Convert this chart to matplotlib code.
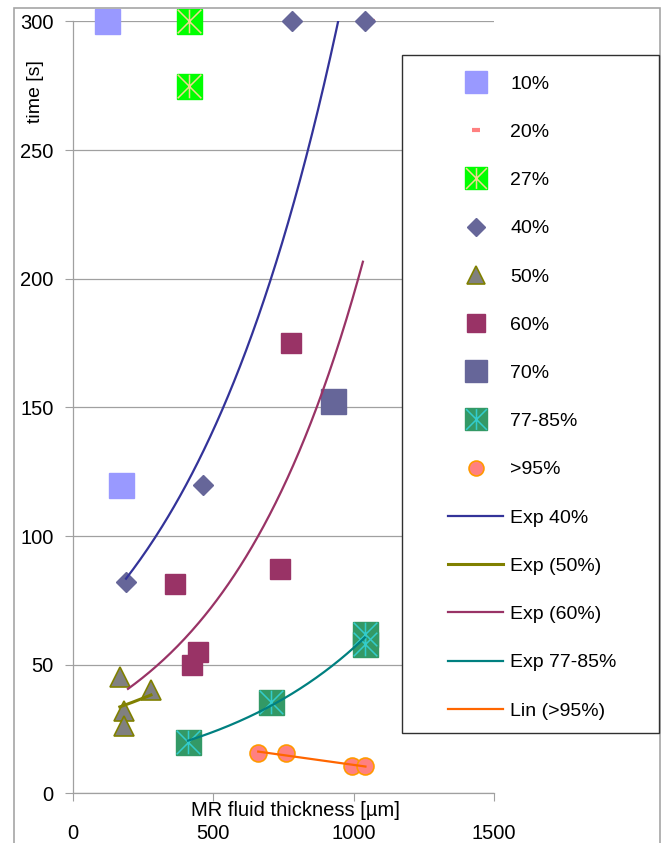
import matplotlib
matplotlib.use('Agg')
import matplotlib.pyplot as plt
import numpy as np
from matplotlib.path import Path
from matplotlib.patches import Rectangle

plt.rcParams['font.family'] = ['Liberation Sans', 'DejaVu Sans']

# measured points: MR fluid thickness [um] vs time [s]
x10 = [120, 170]
y10 = [300, 120]
x20 = [1060]
y20 = [300]
x27 = [415, 415]
y27 = [300, 275]
x40 = [189, 463, 780, 1040]
y40 = [82, 120, 300, 300]
x50 = [167, 278, 182, 182]
y50 = [45, 40, 32, 26]
x60 = [363, 737, 777, 445, 424]
y60 = [81.5, 87, 175, 55, 50]
x70 = [926]
y70 = [152.5]
x77 = [410, 706, 1040, 1040]
y77 = [20, 35.5, 62, 58]
x95 = [660, 758, 995, 1042]
y95 = [15.6, 15.6, 10.6, 10.6]

# x-range over which each trendline is drawn
span40 = [189, 1040]
span50 = [167, 278]
span60 = [196, 1033]
span77 = [410, 1040]
span95 = [660, 1042]


def exp_trend(x, y, span):
    b, lna = np.polyfit(x, np.log(y), 1)
    xs = np.linspace(span[0], span[1], 200)
    return xs, np.exp(lna + b * xs)


def lin_trend(x, y, span):
    k, d = np.polyfit(x, y, 1)
    xs = np.array(span, dtype=float)
    return xs, k * xs + d


# asterisk marker (vertical bar + X)
star = Path([(0, -1), (0, 1), (-1, -1), (1, 1), (-1, 1), (1, -1)],
            [Path.MOVETO, Path.LINETO] * 3)

fig = plt.figure(figsize=(6.67, 8.43), dpi=100)
ax = fig.add_axes([0.1094, 0.0590, 0.6312, 0.9155])

mk = dict(ls='none', clip_on=False, zorder=3)
h10, = ax.plot(x10, y10, marker='s', ms=18, mfc='#9999FF', mec='#9999FF', **mk)
h20, = ax.plot(x20, y20, marker='_', ms=6.5, mew=3, color='#FF8080', ls='none',
               clip_on=False, zorder=2)
h27a, = ax.plot(x27, y27, marker='s', ms=18, mfc='#00FF00', mec='#00FF00', **mk)
h27b, = ax.plot(x27, y27, marker=star, ms=17, mec='#F0D890', mew=1.1, **mk)
h40, = ax.plot(x40, y40, marker='D', ms=10.2, mfc='#666699', mec='#666699', **mk)
h50, = ax.plot(x50, y50, marker='^', ms=14.4, mfc='#808080', mec='#808000', mew=1.2, **mk)
h60, = ax.plot(x60, y60, marker='s', ms=14.4, mfc='#993366', mec='#993366', **mk)
h70, = ax.plot(x70, y70, marker='s', ms=18, mfc='#666699', mec='#666699', **mk)
h77a, = ax.plot(x77, y77, marker='s', ms=18, mfc='#339966', mec='#339966', **mk)
h77b, = ax.plot(x77, y77, marker=star, ms=17, mec='#33CCCC', mew=1.1, **mk)
h95, = ax.plot(x95, y95, marker='o', ms=12.2, mfc='#FF8080', mec='#FF9900', mew=1.2, **mk)

lw = 1.6
xs, ys = exp_trend(x40, y40, span40)
t40, = ax.plot(xs, ys, color='#333399', lw=lw, zorder=4)
xs, ys = exp_trend(x50, y50, span50)
t50, = ax.plot(xs, ys, color='#808000', lw=lw + 0.6, zorder=4)
xs, ys = exp_trend(x60, y60, span60)
t60, = ax.plot(xs, ys, color='#993366', lw=lw, zorder=4)
xs, ys = exp_trend(x77, y77, span77)
t77, = ax.plot(xs, ys, color='#008080', lw=lw, zorder=4)
xs, ys = lin_trend(x95, y95, span95)
t95, = ax.plot(xs, ys, color='#FF6600', lw=lw, zorder=4)

ax.set_xlim(0, 1500)
ax.set_ylim(0, 300)
ax.set_xticks([0, 500, 1000, 1500])
ax.set_yticks(np.arange(0, 301, 50))
ax.yaxis.grid(True, color='#a0a0a0', lw=0.9)
ax.set_axisbelow(True)
for s in ['top', 'right']:
    ax.spines[s].set_visible(False)
for s in ['left', 'bottom']:
    ax.spines[s].set_color('#a0a0a0')
    ax.spines[s].set_linewidth(0.9)
ax.tick_params(axis='both', direction='out', length=5.8, color='#a0a0a0', labelsize=14.5)
ax.tick_params(axis='x', pad=16)
ax.tick_params(axis='y', pad=8)

fig.text(295 / 667, 1 - 811 / 843, 'MR fluid thickness [µm]', ha='center', va='center', fontsize=14.5)
fig.text(35 / 667, 1 - 92 / 843, 'time [s]', ha='center', va='center', rotation=90, fontsize=14)

# outer chart border
fig.add_artist(Rectangle((14 / 667, -0.01), (660 - 14) / 667, 1 - 8 / 843 + 0.01,
                         transform=fig.transFigure, fill=False, ec='#a6a6a6', lw=1.2, zorder=1))
# legend box
fig.add_artist(Rectangle((402 / 667, 1 - 733 / 843), (659 - 402) / 667, (733 - 55) / 843,
                         transform=fig.transFigure, fc='white', ec='#303030', lw=1.0, zorder=5))

handles = [h10, h20, (h27a, h27b), h40, h50, h60, h70, (h77a, h77b), h95,
           t40, t50, t60, t77, t95]
labels = ['10%', '20%', '27%', '40%', '50%', '60%', '70%', '77-85%', '>95%',
          'Exp 40%', 'Exp (50%)', 'Exp (60%)', 'Exp 77-85%', 'Lin (>95%)']
leg = fig.legend(handles, labels, loc='upper left',
                 bbox_to_anchor=(448 / 667, 1 - 75 / 843), bbox_transform=fig.transFigure,
                 frameon=False, borderpad=0, borderaxespad=0,
                 prop={'family': 'Liberation Sans', 'size': 14},
                 handlelength=2.85, handletextpad=0.36, labelspacing=1.575,
                 markerscale=0.88, numpoints=1)
leg.set_zorder(6)

fig.savefig('out.png', dpi=100)
